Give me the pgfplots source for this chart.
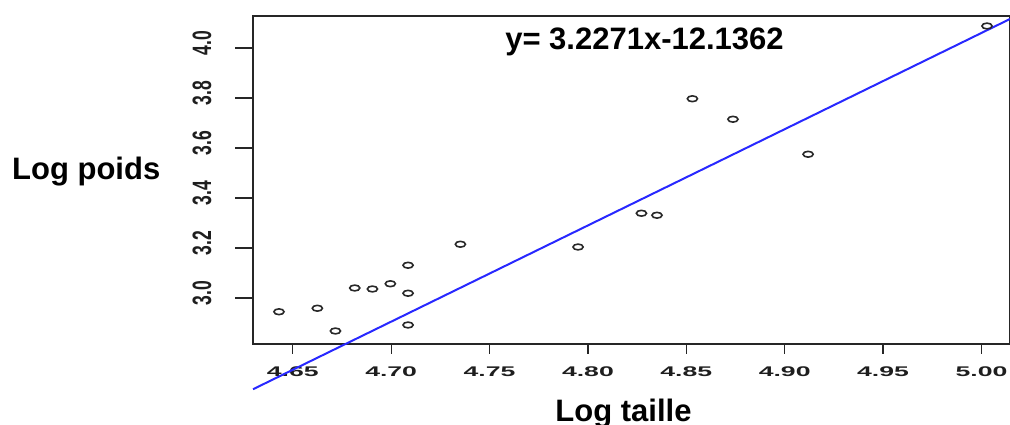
\documentclass[border=0pt]{standalone}
\usepackage{pgfplots}
\pgfplotsset{compat=1.18}
\usepackage{fontspec}
\setmainfont{Liberation Sans}
\usepackage{graphicx}
\newcommand\xl[1]{\scalebox{1.9}[1]{#1}}
\newcommand\yl[1]{\scalebox{1.25}[1.9]{#1}}
\definecolor{regblue}{RGB}{40,40,255}
\definecolor{ptgray}{RGB}{40,40,40}
\definecolor{tkl}{RGB}{30,30,30}
\begin{document}
\begin{tikzpicture}
\useasboundingbox (0pt,0pt) rectangle (1010pt,425pt);
\begin{axis}[
 at={(253pt,81pt)}, anchor=south west,
 scale only axis, width=757pt, height=328pt,
 xmin=4.6298, xmax=5.0145, ymin=2.816, ymax=4.128,
 clip=false,
 axis line style={line width=1.3pt, draw=black!85},
 tick align=outside, tick pos=left, major tick length=10pt,
 xtick style={line width=1.2pt, draw=black!85},
 xtick={4.65,4.70,4.75,4.80,4.85,4.90,4.95,5.00},
 xticklabels={\xl{4.65},\xl{4.70},\xl{4.75},\xl{4.80},\xl{4.85},\xl{4.90},\xl{4.95},\xl{5.00}},
 ytick={3.0,3.2,3.4,3.6,3.8,4.0},
 yticklabels={\yl{3.0},\yl{3.2},\yl{3.4},\yl{3.6},\yl{3.8},\yl{4.0}},
 ytick style={draw=none},
 yticklabel style={font=\fontsize{14}{14}\selectfont\bfseries, text=tkl, xshift=-28pt, yshift=5pt, rotate=90, anchor=south},
 xticklabel style={font=\fontsize{14}{14}\selectfont\bfseries, text=tkl, yshift=-9pt},
]
\pgfplotsinvokeforeach{3.0,3.2,3.4,3.6,3.8,4.0}{
  \draw[line width=1.2pt, black!85] (axis cs:4.6298,#1) -- ++(-18pt,0pt);
}
\addplot[regblue, line width=2pt] coordinates {(4.6298,2.635) (5.0145,4.116)};
\addplot[only marks, mark=o, mark size=2.9pt, mark options={xscale=1.75, line width=1.6pt, draw=ptgray}] table {
x y
4.643 2.945
4.6625 2.959
4.6717 2.868
4.6815 3.040
4.6905 3.036
4.6996 3.057
4.7086 3.131
4.7086 3.019
4.7086 2.892
4.7352 3.215
4.7950 3.204
4.8272 3.339
4.8351 3.331
4.8531 3.797
4.8737 3.715
4.9119 3.575
5.0028 4.088
};
\end{axis}
\node[anchor=base, font=\fontsize{31}{31}\selectfont\bfseries] at (644.5pt,375pt) {y= 3.2271x-12.1362};
\node[anchor=base west, inner sep=0pt, font=\fontsize{31}{31}\selectfont\bfseries] at (12pt,245pt) {Log poids};
\node[anchor=base, inner sep=0pt, font=\fontsize{31}{31}\selectfont\bfseries] at (623.5pt,3pt) {Log taille};
\end{tikzpicture}
\end{document}
